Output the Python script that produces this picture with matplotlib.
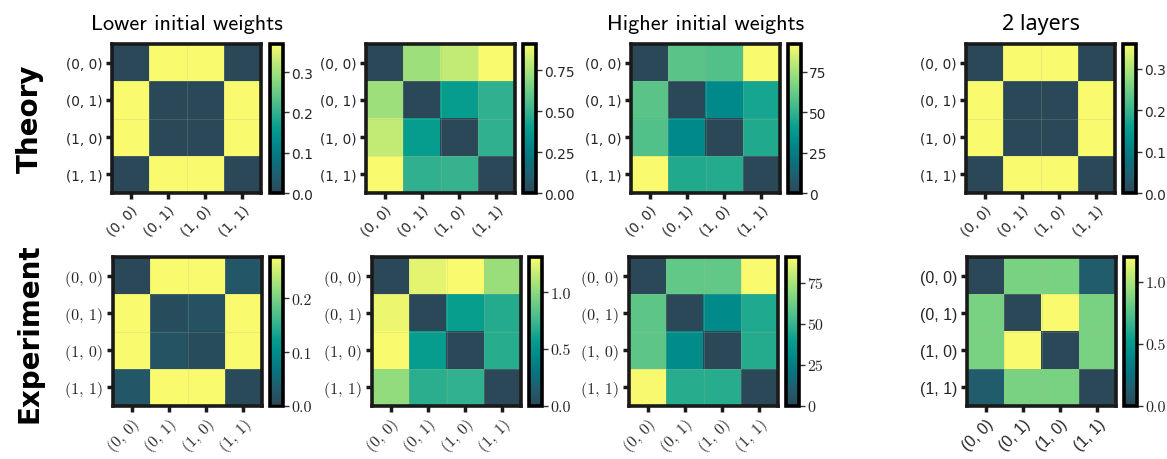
import numpy as np
import matplotlib
matplotlib.use('Agg')
import matplotlib.pyplot as plt
from matplotlib.colors import LinearSegmentedColormap

pairs = ['(0, 0)', '(0, 1)', '(1, 0)', '(1, 1)']
col_titles = ['Lower initial weights', '', 'Higher initial weights', '2 layers']
row_titles = ['Theory', 'Experiment']

theory_lower = [[0.00, 0.37, 0.37, 0.00],
                [0.37, 0.00, 0.00, 0.37],
                [0.37, 0.00, 0.00, 0.37],
                [0.00, 0.37, 0.37, 0.00]]
theory_mid = [[0.00, 0.73, 0.80, 0.91],
              [0.73, 0.00, 0.40, 0.49],
              [0.80, 0.40, 0.00, 0.49],
              [0.91, 0.49, 0.50, 0.00]]
theory_higher = [[0, 59, 57, 92],
                 [59, 0, 31, 44],
                 [57, 31, 0, 46],
                 [92, 46, 47, 0]]
theory_2layers = [[0.00, 0.36, 0.36, 0.00],
                  [0.36, 0.00, 0.00, 0.36],
                  [0.36, 0.00, 0.00, 0.36],
                  [0.00, 0.36, 0.36, 0.00]]

exp_lower = [[0.004, 0.277, 0.277, 0.026],
             [0.277, 0.012, 0.018, 0.277],
             [0.277, 0.020, 0.012, 0.277],
             [0.026, 0.277, 0.277, 0.008]]
exp_mid = [[0.00, 1.25, 1.31, 1.04],
           [1.27, 0.00, 0.58, 0.67],
           [1.31, 0.57, 0.00, 0.68],
           [1.02, 0.69, 0.71, 0.00]]
exp_higher = [[0, 60, 60, 90.5],
              [59, 0, 31, 45],
              [59, 32, 0, 46],
              [90, 47, 47, 0]]
exp_2layers = [[0.00, 0.86, 0.86, 0.13],
               [0.86, 0.00, 1.20, 0.86],
               [0.86, 1.20, 0.00, 0.86],
               [0.13, 0.86, 0.86, 0.00]]

cbar_ticks = [[0.0, 0.1, 0.2, 0.3], [0.0, 0.25, 0.5, 0.75], [0, 25, 50, 75], [0.0, 0.1, 0.2, 0.3],
              [0.0, 0.1, 0.2], [0.0, 0.5, 1.0], [0, 25, 50, 75], [0.0, 0.5, 1.0]]
cbar_labels = [['0.0', '0.1', '0.2', '0.3'], ['0.00', '0.25', '0.50', '0.75'], ['0', '25', '50', '75'],
               ['0.0', '0.1', '0.2', '0.3'],
               ['0.0', '0.1', '0.2'], ['0.0', '0.5', '1.0'], ['0', '25', '50', '75'], ['0.0', '0.5', '1.0']]

panels = [theory_lower, theory_mid, theory_higher, theory_2layers,
          exp_lower, exp_mid, exp_higher, exp_2layers]

cmap = LinearSegmentedColormap.from_list('slate_yellow', [
    '#2a4858', '#215d6e', '#08737f', '#00898a', '#089f8f',
    '#39b48e', '#64c987', '#92dc7e', '#c4ec74', '#fafa6e'])

W, H = 1167, 460
fig = plt.figure(figsize=(W / 100, H / 100), dpi=100)

# pixel boxes (left, top) of each heatmap and its colorbar
hm_left = [112, 366, 631, 966, 113, 372, 629, 967]
cb_left = [270, 523, 788, 1123, 270, 529, 786, 1124]
row_top = [45, 258]
size = 149
cb_w = 13

# fonts per panel: (tick family, tick size, colorbar family, colorbar size)
fonts = [('DejaVu Sans', 9.8, 'DejaVu Sans', 10)] * 4 + \
        [('cmr10', 11.5, 'cmr10', 11.5)] * 3 + [('Liberation Sans', 11.5, 'cmr10', 11.5)]

dark = '#1a1a1a'
for i, data in enumerate(panels):
    r = i // 4
    top = row_top[r]
    ax = fig.add_axes([hm_left[i] / W, 1 - (top + size) / H, size / W, size / H])
    arr = np.array(data, dtype=float)
    im = ax.imshow(arr, cmap=cmap, aspect='auto', interpolation='nearest')
    # faint cell borders
    for k in range(1, 4):
        ax.axhline(k - 0.5, color='#b0b890', lw=0.5, alpha=0.3)
        ax.axvline(k - 0.5, color='#b0b890', lw=0.5, alpha=0.3)
    tf, ts, cf, cs = fonts[i]
    ax.set_xticks(range(4))
    ax.set_yticks(range(4))
    ax.set_xticklabels(pairs, rotation=45, ha='right', rotation_mode='anchor',
                       family=tf, fontsize=ts, color='#262626')
    ax.set_yticklabels(pairs, family=tf, fontsize=ts, color='#262626')
    ax.tick_params(length=4, width=2.5, color=dark, pad=3)
    for sp in ax.spines.values():
        sp.set_linewidth(2.6)
        sp.set_color(dark)

    cax = fig.add_axes([cb_left[i] / W, 1 - (top + size) / H, cb_w / W, size / H])
    cb = fig.colorbar(im, cax=cax)
    cb.set_ticks(cbar_ticks[i])
    cb.set_ticklabels(cbar_labels[i])
    for lab in cax.get_yticklabels():
        lab.set_family(cf)
        lab.set_fontsize(cs)
        lab.set_color('#262626')
    cax.tick_params(length=4, width=1.0, color='#333333', pad=2)
    cb.outline.set_linewidth(2.6)
    cb.outline.set_edgecolor('black')

    if r == 0 and col_titles[i]:
        fam = 'Noto Sans' if i == 3 else 'cmss10'
        ax.set_title(col_titles[i], family=fam, fontsize=16 if i != 3 else 15.5, pad=11)

fig.text(30 / W, 1 - 119 / H, row_titles[0], rotation=90, fontsize=20, fontweight='bold',
         ha='center', va='center')
fig.text(30 / W, 1 - 333 / H, row_titles[1], rotation=90, fontsize=20, fontweight='bold',
         ha='center', va='center')

fig.savefig('out.png', dpi=100)
